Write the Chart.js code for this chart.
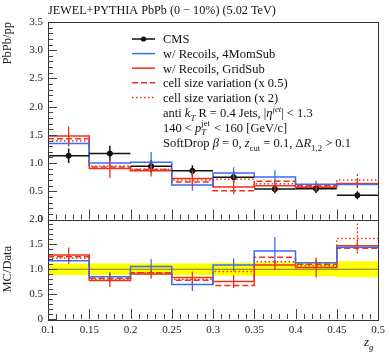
<!DOCTYPE html>
<html><head><meta charset="utf-8">
<script src="https://cdn.jsdelivr.net/npm/chart.js@4"></script>
<style>
html,body{margin:0;padding:0;background:#fff;}
#wrap{position:relative;width:390px;height:352px;overflow:hidden;}
canvas{position:absolute;left:0;top:0;}
</style></head><body>
<div id="wrap"><canvas id="topc" width="390" height="352"></canvas><canvas id="botc" width="390" height="352"></canvas></div>
<script>
// ---- data ----
const binEdges = [0.1, 0.15, 0.2, 0.25, 0.3, 0.35, 0.4, 0.45, 0.5];
const xTickLabels = ['0.1','0.15','0.2','0.25','0.3','0.35','0.4','0.45','0.5'];
const cmsValues   = [1.13, 1.17, 0.945, 0.862, 0.75, 0.54, 0.545, 0.43];
const cmsErrors   = [0.13, 0.135, 0.11, 0.10, 0.10, 0.075, 0.076, 0.07];
const mom4Values  = [1.346, 1.0, 1.015, 0.61, 0.825, 0.755, 0.625, 0.62];
const mom4Errors  = [0.05, 0.05, 0.18, 0.10, 0.10, 0.12, 0.06, 0.06];
const gridValues  = [1.48, 0.905, 0.862, 0.725, 0.575, 0.60, 0.57, 0.64];
const gridErrors  = [0.17, 0.17, 0.10, 0.14, 0.13, 0.10, 0.07, 0.08];
const cellHalfValues   = [1.43, 0.93, 0.885, 0.665, 0.51, 0.68, 0.60, 0.625];
const cellDoubleValues = [1.39, 0.95, 0.89, 0.70, 0.715, 0.635, 0.59, 0.70];
const cellDoubleErrors = [0, 0, 0, 0, 0, 0, 0, 0.14];
// ratio panel (MC/Data)
const ratioMom4   = [1.17, 0.847, 1.053, 0.693, 1.087, 1.367, 1.133, 1.44];
const ratioMom4Err= [0.06, 0.10, 0.15, 0.13, 0.13, 0.28, 0.06, 0.06];
const ratioGrid   = [1.287, 0.773, 0.907, 0.833, 0.753, 1.087, 1.033, 1.473];
const ratioGridErr= [0.15, 0.13, 0.10, 0.12, 0.13, 0.10, 0.20, 0.10];
const ratioHalf   = [1.25, 0.82, 0.93, 0.78, 0.673, 1.24, 1.10, 1.42];
const ratioDouble = [1.22, 0.80, 0.93, 0.80, 0.953, 1.153, 1.07, 1.62];
const ratioDoubleErr = [0, 0, 0, 0, 0, 0, 0, 0.30];
const cmsBandHalf = [0.115, 0.115, 0.115, 0.115, 0.13, 0.135, 0.14, 0.16];
const ratioReference = 1;

// ---- styles ----
const FONT = "'Liberation Serif', 'DejaVu Serif', serif";
const BLUE = '#3b6cf2';
const RED = '#ee3218';
const BLACK = '#111';

const centers = binEdges.slice(0, -1).map((e, i) => (e + binEdges[i + 1]) / 2);
const histo = vals => binEdges.map((e, i) => ({ x: e, y: vals[Math.min(i, vals.length - 1)] }));

function histDS(label, vals, color, dash, yID, errs, legend) {
  return {
    label, data: histo(vals), borderColor: color, borderWidth: 1.5, borderDash: dash || [],
    stepped: 'before', pointRadius: 0, fill: false, yAxisID: yID, errors: errs, legendLabel: legend,
    tension: 0
  };
}

// rich text: segments [text, {i, sub, sup, subsup:[sub,sup]}]
function drawRich(ctx, x, y, segs, size, color) {
  ctx.save();
  ctx.fillStyle = color || BLACK;
  ctx.textBaseline = 'alphabetic';
  ctx.textAlign = 'left';
  let cx = x;
  for (const [t, o] of segs) {
    const op = o || {};
    if (op.subsup) {
      ctx.font = `${op.i ? 'italic ' : ''}${size * 0.7}px ${FONT}`;
      const w1 = ctx.measureText(op.subsup[0]).width;
      ctx.font = `${size * 0.7}px ${FONT}`;
      const w2 = ctx.measureText(op.subsup[1]).width;
      ctx.font = `${op.i ? 'italic ' : ''}${size * 0.7}px ${FONT}`;
      ctx.fillText(op.subsup[0], cx, y + size * 0.28);
      ctx.font = `${size * 0.7}px ${FONT}`;
      ctx.fillText(op.subsup[1], cx, y - size * 0.45);
      cx += Math.max(w1, w2) + 1;
      continue;
    }
    const s = (op.sub || op.sup) ? size * 0.7 : size;
    ctx.font = `${op.i ? 'italic ' : ''}${s}px ${FONT}`;
    const dy = op.sub ? size * 0.28 : (op.sup ? -size * 0.45 : 0);
    ctx.fillText(t, cx, y + dy);
    cx += ctx.measureText(t).width;
  }
  ctx.restore();
}

function innerTicks(chart, yMax) {
  const { ctx, chartArea: a, scales } = chart;
  const xs = scales.x, ys = scales[chart.config.options.mainY];
  ctx.save();
  ctx.strokeStyle = '#444';
  ctx.lineWidth = 1;
  ctx.beginPath();
  const nx = Math.round((binEdges[binEdges.length - 1] - binEdges[0]) / 0.01);
  for (let k = 0; k <= nx; k++) {
    const v = binEdges[0] + k * 0.01;
    const px = Math.round(xs.getPixelForValue(v)) + 0.5;
    const L = (k % 5 === 0) ? 10 : 5;
    ctx.moveTo(px, a.bottom); ctx.lineTo(px, a.bottom - L);
  }
  const ny = Math.round(yMax / 0.1);
  for (let k = 0; k <= ny; k++) {
    const py = Math.round(ys.getPixelForValue(k * 0.1)) + 0.5;
    const L = (k % 5 === 0) ? 9 : 5;
    ctx.moveTo(a.left, py); ctx.lineTo(a.left + L, py);
  }
  ctx.stroke();
  ctx.strokeStyle = '#333';
  ctx.strokeRect(Math.round(a.left) + 0.5, Math.round(a.top) + 0.5, Math.round(a.right - a.left), Math.round(a.bottom - a.top));
  ctx.restore();
}

function drawErrors(chart) {
  const { ctx, scales } = chart;
  const xs = scales.x;
  ctx.save();
  chart.data.datasets.forEach(ds => {
    if (!ds.errors && !ds.cms) return;
    const ys = scales[ds.yAxisID];
    ctx.strokeStyle = ds.borderColor;
    ctx.lineWidth = ds.cms ? 1.5 : 1.3;
    ctx.setLineDash(ds.errDash || []);
    const vals = ds.vals;
    vals.forEach((v, i) => {
      const e = ds.errors ? ds.errors[i] : 0;
      const px = xs.getPixelForValue(centers[i]);
      ctx.beginPath();
      if (e > 0) {
        ctx.moveTo(px, ys.getPixelForValue(v - e));
        ctx.lineTo(px, ys.getPixelForValue(v + e));
      }
      if (ds.cms) {
        ctx.moveTo(xs.getPixelForValue(binEdges[i]), ys.getPixelForValue(v));
        ctx.lineTo(xs.getPixelForValue(binEdges[i + 1]), ys.getPixelForValue(v));
      }
      ctx.stroke();
    });
  });
  ctx.restore();
}

const yAfterFit = s => { s.width = 48; };

// ---------- top chart ----------
const topDatasets = [
  Object.assign(histDS('w/ Recoils, 4MomSub', mom4Values, BLUE, null, 'y', mom4Errors, true), { vals: mom4Values }),
  Object.assign(histDS('w/ Recoils, GridSub', gridValues, RED, null, 'y', gridErrors, true), { vals: gridValues }),
  Object.assign(histDS('cell size variation (x 0.5)', cellHalfValues, RED, [6, 3], 'y', null, true), { vals: cellHalfValues }),
  Object.assign(histDS('cell size variation (x 2)', cellDoubleValues, RED, [1.5, 2.5], 'y', cellDoubleErrors, true), { vals: cellDoubleValues, errDash: [2, 2] }),
];
const cmsDS = {
  label: 'CMS', data: centers.map((c, i) => ({ x: c, y: cmsValues[i] })), showLine: false,
  pointRadius: 2.6, pointBackgroundColor: BLACK, pointBorderColor: BLACK, borderColor: BLACK,
  yAxisID: 'y', cms: true, vals: cmsValues, errors: cmsErrors, legendLabel: true
};
topDatasets.unshift(cmsDS);

const legendPlugin = {
  id: 'legendBox',
  afterDraw(chart) {
    const ctx = chart.ctx;
    const x0 = 132, x1 = 155, tx = 163, y0 = 39, dy = 14.6, fs = 12.5;
    const items = chart.data.datasets.filter(d => d.legendLabel);
    items.forEach((d, i) => {
      const y = y0 + i * dy;
      ctx.save();
      ctx.strokeStyle = d.borderColor;
      ctx.lineWidth = 1.5;
      ctx.setLineDash(d.borderDash || []);
      ctx.beginPath(); ctx.moveTo(x0, y); ctx.lineTo(x1, y); ctx.stroke();
      if (d.cms) {
        ctx.fillStyle = BLACK; ctx.beginPath(); ctx.arc((x0 + x1) / 2, y, 2.6, 0, Math.PI * 2); ctx.fill();
      }
      ctx.restore();
      drawRich(ctx, tx, y + 4.3, [[d.label]], fs);
    });
    let y = y0 + items.length * dy + 4.3 + 1;
    drawRich(ctx, tx, y, [['anti '], ['k', { i: 1 }], ['T', { sub: 1, i: 1 }], [' R = 0.4 Jets, |'], ['η', { i: 1 }], ['jet', { sup: 1, i: 1 }], ['| < 1.3']], fs);
    y += 14.5;
    drawRich(ctx, tx, y, [['140 < '], ['p', { i: 1 }], ['', { subsup: ['T', 'jet'], i: 1 }], [' < 160 [GeV/c]']], fs);
    y += 15.5;
    drawRich(ctx, tx, y, [['SoftDrop '], ['β', { i: 1 }], [' = 0, '], ['z', { i: 1 }], ['cut', { sub: 1 }], [' = 0.1, Δ'], ['R', { i: 1 }], ['1,2', { sub: 1 }], [' > 0.1']], fs);
    // title
    drawRich(ctx, 48, 14, [['JEWEL+PYTHIA PbPb (0 − 10%) (5.02 TeV)']], 12.2);
  }
};

const decorTop = {
  id: 'decorTop',
  afterDatasetsDraw(chart) { drawErrors(chart); },
  afterDraw(chart) { innerTicks(chart, 3.5); }
};

new Chart(document.getElementById('topc'), {
  type: 'line',
  data: { datasets: topDatasets },
  options: {
    mainY: 'y',
    responsive: false, animation: false, devicePixelRatio: 1,
    layout: { padding: { top: 22, bottom: 352 - 219.5, left: 0, right: 12 } },
    plugins: { legend: { display: false }, tooltip: { enabled: false }, title: { display: false } },
    scales: {
      x: { type: 'linear', min: 0.1, max: 0.5, display: false },
      y: {
        type: 'linear', min: 0, max: 3.5, afterFit: yAfterFit,
        grid: { display: false, drawTicks: false }, border: { display: false },
        ticks: { stepSize: 0.5, padding: 5, color: '#222', font: { family: FONT, size: 11 } },
        title: { display: true, text: 'PbPb/pp', align: 'end', color: '#222', padding: { top: 0, bottom: 0 }, font: { family: FONT, size: 12.5 } }
      }
    }
  },
  plugins: [decorTop, legendPlugin]
});

// ---------- ratio chart ----------
const botDatasets = [
  Object.assign(histDS('4MomSub', ratioMom4, BLUE, null, 'y', ratioMom4Err), { vals: ratioMom4 }),
  Object.assign(histDS('GridSub', ratioGrid, RED, null, 'y', ratioGridErr), { vals: ratioGrid }),
  Object.assign(histDS('x0.5', ratioHalf, RED, [6, 3], 'y', null), { vals: ratioHalf }),
  Object.assign(histDS('x2', ratioDouble, RED, [1.5, 2.5], 'y', ratioDoubleErr), { vals: ratioDouble, errDash: [2, 2] }),
  { label: 'ref', data: [{ x: binEdges[0], y: ratioReference }, { x: binEdges[binEdges.length - 1], y: ratioReference }],
    borderColor: '#77772e', borderWidth: 1.2, pointRadius: 0, yAxisID: 'y', order: 5 },
  { label: 'bandUp', data: histo(cmsBandHalf.map(h => ratioReference + h)), stepped: 'before', borderWidth: 0,
    pointRadius: 0, backgroundColor: '#ffff00', borderColor: 'rgba(0,0,0,0)', fill: '+1', yAxisID: 'y', order: 10 },
  { label: 'bandLo', data: histo(cmsBandHalf.map(h => ratioReference - h)), stepped: 'before', borderWidth: 0,
    pointRadius: 0, borderColor: 'rgba(0,0,0,0)', fill: false, yAxisID: 'y', order: 11 }
];

const zgTitle = {
  id: 'zgTitle',
  afterDraw(chart) { drawRich(chart.ctx, 364, 346, [['z', { i: 1 }], ['g', { sub: 1, i: 1 }]], 13); }
};
const decorBot = {
  id: 'decorBot',
  afterDatasetsDraw(chart) { drawErrors(chart); },
  afterDraw(chart) { innerTicks(chart, 2); }
};

new Chart(document.getElementById('botc'), {
  type: 'line',
  data: { datasets: botDatasets },
  options: {
    mainY: 'y',
    responsive: false, animation: false, devicePixelRatio: 1,
    layout: { padding: { top: 219.5, bottom: 0, left: 0, right: 12 } },
    plugins: { legend: { display: false }, tooltip: { enabled: false }, title: { display: false } },
    scales: {
      x: {
        type: 'linear', min: 0.1, max: 0.5, afterFit: s => { s.height = 33; },
        grid: { display: false, drawTicks: false }, border: { display: false },
        afterBuildTicks: s => { s.ticks = binEdges.map(v => ({ value: v })); },
        ticks: { padding: 5, color: '#222', maxRotation: 0, autoSkip: false, font: { family: FONT, size: 11 },
          callback: (v) => xTickLabels[binEdges.findIndex(e => Math.abs(e - v) < 1e-6)] }
      },
      y: {
        type: 'linear', min: 0, max: 2, afterFit: yAfterFit,
        grid: { display: false, drawTicks: false }, border: { display: false },
        ticks: { stepSize: 0.5, padding: 5, color: '#222', font: { family: FONT, size: 11 } },
        title: { display: true, text: 'MC/Data', align: 'center', color: '#222', padding: { top: 0, bottom: 0 }, font: { family: FONT, size: 12.5 } }
      }
    }
  },
  plugins: [decorBot, zgTitle]
});
</script>
</body></html>
